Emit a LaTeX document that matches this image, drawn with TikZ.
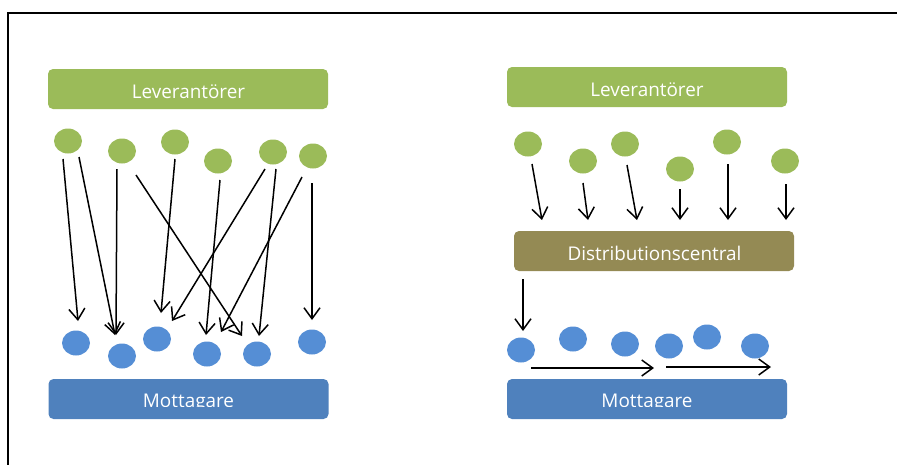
\documentclass[tikz,border=0pt]{standalone}
\usepackage{fontspec}
\setmainfont{Open Sans}
\usetikzlibrary{arrows.meta,shapes.geometric}
\definecolor{lgreen}{HTML}{9BBB59}
\definecolor{lblue}{HTML}{558ED5}
\definecolor{mblue}{HTML}{4F81BD}
\definecolor{olive}{HTML}{948A54}
\tikzset{
  gdot/.style={ellipse,fill=lgreen,minimum width=28pt,minimum height=25pt,inner sep=0pt},
  bdot/.style={ellipse,fill=lblue,minimum width=28pt,minimum height=25pt,inner sep=0pt},
  bar/.style={rounded corners=5pt,minimum width=280pt,minimum height=40pt,inner sep=0pt},
  lbl/.style={text=white,font=\fontsize{18.9}{22}\selectfont,anchor=base,inner sep=0pt},
  flow/.style={line width=1.5pt,-{Straight Barb[length=11pt,width=16pt,line width=1.5pt]}},
}
\begin{document}
\begin{tikzpicture}[x=1pt,y=-1pt]
\useasboundingbox (0,0) rectangle (897,464);
\draw[line width=2.2pt] (8,470) -- (8,13) -- (900,13);
% ---------- left ----------
\node[bar,fill=lgreen] (levL) at (188,89) {};
\node[lbl] (levLt) at (188.5,98) {Leverantörer};
\node[bar,fill=mblue] (motL) at (188.5,399) {};
\begin{scope}
\clip (40,370) rectangle (340,406.5);
\node[lbl] (motLt) at (188.5,407.5) {Mottagare};
\end{scope}
\node[gdot] (g1) at (68,141) {};
\node[gdot] (g2) at (122,151) {};
\node[gdot] (g3) at (175,142) {};
\node[gdot] (g4) at (218,161) {};
\node[gdot] (g5) at (273,152) {};
\node[gdot] (g6) at (313,156) {};
\node[bdot] (b1) at (76,343) {};
\node[bdot] (b2) at (122,356) {};
\node[bdot] (b3) at (157,339) {};
\node[bdot] (b4) at (207,354) {};
\node[bdot] (b5) at (257,354) {};
\node[bdot] (b6) at (312,342) {};
\coordinate (s1) at (63,159);   \coordinate (e1) at (78,321);
\coordinate (s2) at (79,157);   \coordinate (e2) at (115,335);
\coordinate (s3) at (117,169);  \coordinate (e3) at (116,335);
\coordinate (s4) at (136,175);  \coordinate (e4) at (242,336);
\coordinate (s5) at (175,159);  \coordinate (e5) at (161,313);
\coordinate (s6) at (220,180);  \coordinate (e6) at (206,335);
\coordinate (s7) at (265,169);  \coordinate (e7) at (172,321);
\coordinate (s8) at (276,169);  \coordinate (e8) at (259,336);
\coordinate (s9) at (302,177);  \coordinate (e9) at (221,332);
\coordinate (s10) at (312,183); \coordinate (e10) at (312,320);
\foreach \i in {1,...,10} {\draw[flow] (s\i) -- (e\i);}
% ---------- right ----------
\node[bar,fill=lgreen] (levR) at (647,87) {};
\node[lbl] (levRt) at (647,96) {Leverantörer};
\node[bar,fill=olive] (dc) at (654,251) {};
\node[lbl] (dct) at (654.5,260) {Distributionscentral};
\node[bar,fill=mblue] (motR) at (647,399) {};
\begin{scope}
\clip (500,370) rectangle (800,406.5);
\node[lbl] (motRt) at (647,407.5) {Mottagare};
\end{scope}
\node[gdot] (rg1) at (528,144) {};
\node[gdot] (rg2) at (583,161) {};
\node[gdot] (rg3) at (625,144) {};
\node[gdot] (rg4) at (680,169) {};
\node[gdot] (rg5) at (727,142) {};
\node[gdot] (rg6) at (785,161) {};
\node[bdot] (rb1) at (521,350) {};
\node[bdot] (rb2) at (573,339) {};
\node[bdot] (rb3) at (625,344) {};
\node[bdot] (rb4) at (669,346) {};
\node[bdot] (rb5) at (707,337) {};
\node[bdot] (rb6) at (755,346) {};
\coordinate (rs1) at (532,164); \coordinate (re1) at (542,220);
\coordinate (rs2) at (583,183); \coordinate (re2) at (588,220);
\coordinate (rs3) at (627,165); \coordinate (re3) at (637,220);
\coordinate (rs4) at (680,189); \coordinate (re4) at (680,220);
\coordinate (rs5) at (728,164); \coordinate (re5) at (728,220);
\coordinate (rs6) at (786,184); \coordinate (re6) at (786,220);
\foreach \i in {1,...,6} {\draw[flow] (rs\i) -- (re\i);}
\coordinate (ds) at (523,279); \coordinate (de) at (523,331);
\draw[flow] (ds) -- (de);
\coordinate (h1s) at (531,368); \coordinate (h1e) at (654,368);
\coordinate (h2s) at (666,367); \coordinate (h2e) at (771,367);
\draw[flow] (h1s) -- (h1e);
\draw[flow] (h2s) -- (h2e);
\end{tikzpicture}
\end{document}
